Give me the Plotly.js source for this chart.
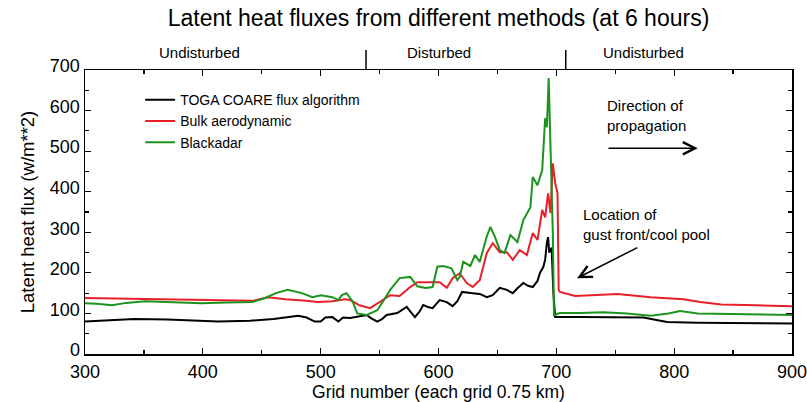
<!DOCTYPE html>
<html>
<head>
<meta charset="utf-8">
<script src="https://cdn.plot.ly/plotly-3.0.1.min.js"></script>
<style>html,body{margin:0;padding:0;background:#fff;}#chart{width:807px;height:402px;}</style>
</head>
<body>
<div id="chart"></div>
<script>
// TOGA COARE flux algorithm
const xToga = [300,320,342,370,413,440,460,481,488,495,500,504,510,515,519,525,532,539,543,548,552,556,565,569,573,576,580,584,587,591,595,601,607,612,616,620,625,629,635,641,646,652,658,663,667,672,676,680,684,686,689,690.5,692,693,694,696,697.5,699,720,750,774,785,794,820,860,900];
const yToga = [80,82,86,85,80,82,86,94,90,80,80,90,91,80,90,89,92,96,88,80,86,96,101,108,116,105,91,105,121,116,113,133,128,118,130,153,152,150,148,140,145,163,158,150,162,175,168,165,180,199,215,232,275,288,250,262,150,91,91,91,90,84,79,77,76,75];
// Bulk aerodynamic
const xBulk = [300,340,400,442,455,470,485,498,510,521,525,533,542,550,559,567,576,582,590,601,607,612,618,624,629,635,641,646,652,658,663,669,675,680,684,688,690.5,693,695,697,699,701,702,703,716,752,780,808,822,840,870,900];
const yBulk = [138,136,134,131,140,135,132,128,130,135,133,120,113,128,145,143,165,177,177,177,163,187,199,175,165,182,249,273,251,251,232,256,244,298,281,355,337,396,347,470,421,396,158,153,143,148,140,135,128,122,120,118];
// Blackadar
const xBlack = [300,310,323,335,351,380,399,420,442,453,462,472,480,484,493,500,510,515,518,522,527,531,539,548,553,559,567,576,582,589,595,599,604,611,616,618,621,627,631,635,641,644,648,652,656,661,667,672,678,680,684,688,690.5,692,693.5,695,697,698,703,720,740,760,780,795,805,820,850,900];
const yBlack = [125,124,120,126,130,128,125,127,128,138,150,158,153,150,140,145,140,133,145,150,130,100,96,108,130,158,187,190,167,163,165,215,217,211,182,190,227,217,244,227,290,313,288,256,249,293,276,330,362,436,416,453,581,559,680,520,300,96,101,101,103,100,94,100,106,100,98,96];

const seriesNames = ["TOGA COARE flux algorithm","Bulk aerodynamic","Blackadar"];
const regionLabels = ["Undisturbed","Disturbed","Undisturbed"];
const regionLabelX = [397,600,774];
const regionBounds = [538.5,708];

const F = "Liberation Sans, Arial, sans-serif";

const traces = [
  {x:xToga,y:yToga,name:seriesNames[0],mode:"lines",line:{color:"#000000",width:2}},
  {x:xBulk,y:yBulk,name:seriesNames[1],mode:"lines",line:{color:"#e8202a",width:2}},
  {x:xBlack,y:yBlack,name:seriesNames[2],mode:"lines",line:{color:"#1c931c",width:2}}
];

const annotations = regionLabels.map((t,i)=>({
  text:t,x:regionLabelX[i],xref:"x",y:1.063,yref:"paper",showarrow:false,
  font:{family:F,size:15,color:"#000"},xanchor:"center",yanchor:"middle"
}));
annotations.push(
  {text:"Direction of<br>propagation",x:741,xref:"x",y:589,yref:"y",showarrow:false,xanchor:"left",yanchor:"middle",align:"left",font:{family:F,size:15,color:"#000"}},
  {text:"",x:820,y:507,xref:"x",yref:"y",ax:743,ay:507,axref:"x",ayref:"y",showarrow:true,arrowhead:5,arrowsize:1.6,arrowwidth:1.5,arrowcolor:"#000"},
  {text:"Location of<br>gust front/cool pool",x:721,xref:"x",y:318,yref:"y",showarrow:false,xanchor:"left",yanchor:"middle",align:"left",font:{family:F,size:15,color:"#000"}},
  {text:"",x:717.6,y:187,xref:"x",yref:"y",ax:770,ay:264,axref:"x",ayref:"y",showarrow:true,arrowhead:5,arrowsize:1.6,arrowwidth:1.5,arrowcolor:"#000"}
);

const shapes = regionBounds.map(b=>({type:"line",xref:"x",yref:"paper",x0:b,x1:b,y0:1,y1:1.07,line:{color:"#000",width:1.5}}));

const layout = {
  width:807,height:402,
  margin:{l:85,r:15,t:70,b:48},
  paper_bgcolor:"#fff",plot_bgcolor:"#fff",
  font:{family:F,color:"#000"},
  title:{text:"Latent heat fluxes from different methods (at 6 hours)",font:{family:F,size:23,color:"#000"},x:0.5,xref:"paper",xanchor:"center",y:0.955,yref:"container",yanchor:"middle"},
  showlegend:true,
  legend:{x:0.078,y:0.95,xanchor:"left",yanchor:"top",bgcolor:"rgba(0,0,0,0)",borderwidth:0,font:{family:F,size:14,color:"#000"},tracegroupgap:0},
  xaxis:{range:[300,900],dtick:100,tick0:300,ticks:"inside",ticklen:6,tickwidth:1.2,tickcolor:"#000",
    showline:true,linecolor:"#000",linewidth:1.5,mirror:"ticks",showgrid:false,zeroline:false,
    ticklabeloverflow:"allow",ticklabelstandoff:1,
    minor:{dtick:50,ticks:"inside",ticklen:4,tickcolor:"#000",showgrid:false},
    tickfont:{family:F,size:18,color:"#000"},
    title:{text:"Grid number (each grid 0.75 km)",font:{family:F,size:17.5,color:"#000"},standoff:3}},
  yaxis:{range:[0,700],dtick:100,ticks:"inside",ticklen:6,tickwidth:1.2,tickcolor:"#000",
    showline:true,linecolor:"#000",linewidth:1.5,mirror:"ticks",showgrid:false,zeroline:false,
    ticklabeloverflow:"allow",ticklabelshift:-4,
    minor:{dtick:50,ticks:"inside",ticklen:4,tickcolor:"#000",showgrid:false},
    tickfont:{family:F,size:18,color:"#000"},
    title:{text:"Latent heat flux (w/m**2)",font:{family:F,size:18.5,color:"#000"},standoff:10}},
  annotations:annotations,
  shapes:shapes
};

Plotly.newPlot("chart",traces,layout,{displayModeBar:false,staticPlot:true});
</script>
</body>
</html>
